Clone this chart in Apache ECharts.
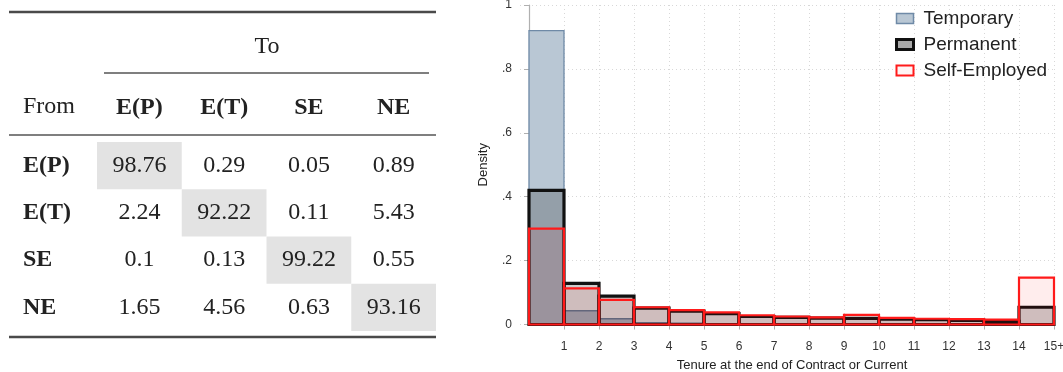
<!DOCTYPE html>
<html>
<head>
<meta charset="utf-8">
<script src="https://cdn.jsdelivr.net/npm/echarts@6/dist/echarts.min.js"></script>
<style>
  html, body { margin: 0; padding: 0; background: #fff; }
  #chart { width: 1063px; height: 372px; }
</style>
</head>
<body>
<div id="chart"></div>
<script>
// ---------- Table data ----------
const colLabels = ['E(P)', 'E(T)', 'SE', 'NE'];
const rowLabels = ['E(P)', 'E(T)', 'SE', 'NE'];
const rowEP = [98.76, 0.29, 0.05, 0.89];
const rowET = [2.24, 92.22, 0.11, 5.43];
const rowSE = [0.1, 0.13, 99.22, 0.55];
const rowNE = [1.65, 4.56, 0.63, 93.16];

// ---------- Histogram data ----------
const binStarts = [0, 1, 2, 3, 4, 5, 6, 7, 8, 9, 10, 11, 12, 13, 14];
const xTickValues = [1, 2, 3, 4, 5, 6, 7, 8, 9, 10, 11, 12, 13, 14, 15];
const temporary = [0.92, 0.043, 0.018, 0.006, 0.004, 0.003, 0.002, 0.002, 0.001, 0.001, 0.001, 0.001, 0.001, 0.001, 0.0];
const permanent = [0.42, 0.129, 0.089, 0.051, 0.042, 0.034, 0.025, 0.022, 0.020, 0.019, 0.017, 0.015, 0.013, 0.010, 0.054];
const selfEmployed = [0.30, 0.113, 0.077, 0.054, 0.045, 0.038, 0.029, 0.025, 0.022, 0.030, 0.021, 0.018, 0.017, 0.015, 0.147];

const tableRows = [rowEP, rowET, rowSE, rowNE];
const tableData = [];
tableRows.forEach((row, r) => row.forEach((v, c) => tableData.push([c, r, v])));

const serif = '"Liberation Serif", "DejaVu Serif", serif';
const sans = '"Liberation Sans", Arial, sans-serif';

function histRender(fill, stroke, lw) {
  return function (params, api) {
    const x0 = api.value(0), h = api.value(1);
    const p0 = api.coord([x0, h]);
    const p1 = api.coord([x0 + 1, 0]);
    return {
      type: 'rect',
      shape: { x: p0[0], y: p0[1], width: p1[0] - p0[0], height: p1[1] - p0[1] },
      style: { fill: fill, stroke: stroke, lineWidth: lw }
    };
  };
}

const tempFill = '#b9c7d4', tempStroke = '#6f8aa7';
const permFill = 'rgba(0,0,0,0.2)', permStroke = '#111';
const seFill = 'rgba(255,0,0,0.07)', seStroke = '#ff1a1a';

const chart = echarts.init(document.getElementById('chart'));
const option = {
  animation: false,
  backgroundColor: '#fff',
  grid: [
    { left: 520, right: 9, top: 5, bottom: 47.5, outerBoundsMode: 'none', containLabel: false },
    { left: 564, right: 9, top: 5, bottom: 47.5, outerBoundsMode: 'none', containLabel: false },
    { left: 97, right: 627, top: 142, bottom: 41, outerBoundsMode: 'none', containLabel: false }
  ],
  xAxis: [
    {
      gridIndex: 0, type: 'value', min: -0.257, max: 15,
      axisLine: { show: false }, axisTick: { show: false }, axisLabel: { show: false },
      splitLine: { show: false },
      name: 'Tenure at the end of Contract or Current', nameLocation: 'middle', nameGap: 34,
      nameTextStyle: { fontFamily: sans, fontSize: 13, color: '#222', padding: [0, 0, 0, 10] }
    },
    {
      gridIndex: 1, type: 'value', min: 1, max: 15, interval: 1, offset: 8.5,
      axisLine: { show: true, lineStyle: { color: '#b0b0b0', width: 1.2 } },
      axisTick: { show: true, length: 5, lineStyle: { color: '#b0b0b0' } },
      axisLabel: {
        fontFamily: sans, fontSize: 12, color: '#333', margin: 8,
        formatter: v => (v === 15 ? '15+' : String(v))
      },
      splitLine: { show: true, lineStyle: { color: '#d8d8d8', type: [1, 3], width: 1 } }
    },
    {
      gridIndex: 2, type: 'category', data: colLabels, position: 'top',
      axisLine: { show: false }, axisTick: { show: false }, splitLine: { show: false },
      axisLabel: { fontFamily: serif, fontSize: 24, fontWeight: 'bold', color: '#222', margin: 22 }
    }
  ],
  yAxis: [
    {
      gridIndex: 0, type: 'value', min: 0, max: 1, interval: 0.2,
      axisLine: { show: true, lineStyle: { color: '#b0b0b0', width: 1.2 } },
      axisTick: { show: true, length: 5, lineStyle: { color: '#b0b0b0' } },
      axisLabel: {
        fontFamily: sans, fontSize: 12, color: '#333', margin: 8,
        formatter: v => (v === 0 ? '0' : v === 1 ? '1' : String(Math.round(v * 10) / 10).replace(/^0/, ''))
      },
      splitLine: { show: true, lineStyle: { color: '#d8d8d8', type: [1, 3], width: 1 } },
      name: 'Density', nameLocation: 'middle', nameGap: 30,
      nameTextStyle: { fontFamily: sans, fontSize: 13, color: '#222' }
    },
    {
      gridIndex: 1, type: 'value', min: 0, max: 1, show: false
    },
    {
      gridIndex: 2, type: 'category', data: rowLabels, inverse: true,
      axisLine: { show: false }, axisTick: { show: false }, splitLine: { show: false },
      axisLabel: { fontFamily: serif, fontSize: 24, fontWeight: 'bold', color: '#222', margin: 74, align: 'left' }
    }
  ],
  legend: {
    orient: 'vertical', left: 890, top: 4, itemWidth: 17, itemHeight: 10, itemGap: 7,
    selectedMode: false,
    textStyle: { fontFamily: sans, fontSize: 19, color: '#222', padding: [0, 0, 0, 5] },
    data: [
      { name: 'Temporary', icon: 'rect', itemStyle: { color: tempFill, borderColor: tempStroke, borderWidth: 1.5 } },
      { name: 'Permanent', icon: 'rect', itemStyle: { color: '#aaaaaa', borderColor: '#111', borderWidth: 3 } },
      { name: 'Self-Employed', icon: 'rect', itemStyle: { color: '#fff4f4', borderColor: '#ff1a1a', borderWidth: 2 } }
    ]
  },
  graphic: [
    { type: 'line', shape: { x1: 9, y1: 12, x2: 436, y2: 12 }, style: { stroke: '#4a4a4a', lineWidth: 2.6 } },
    { type: 'line', shape: { x1: 104, y1: 73, x2: 429, y2: 73 }, style: { stroke: '#555', lineWidth: 1.3 } },
    { type: 'line', shape: { x1: 9, y1: 135, x2: 436, y2: 135 }, style: { stroke: '#555', lineWidth: 1.6 } },
    { type: 'line', shape: { x1: 9, y1: 337, x2: 436, y2: 337 }, style: { stroke: '#4a4a4a', lineWidth: 2.6 } },
    { type: 'text', x: 267, y: 47, style: { text: 'To', font: '24px ' + serif, fill: '#222', textAlign: 'center', textVerticalAlign: 'middle' } },
    { type: 'text', x: 23, y: 107, style: { text: 'From', font: '24px ' + serif, fill: '#222', textAlign: 'left', textVerticalAlign: 'middle' } }
  ],
  series: [
    {
      name: 'Temporary', type: 'custom', xAxisIndex: 0, yAxisIndex: 0,
      itemStyle: { color: tempFill },
      data: binStarts.map((b, i) => [b, temporary[i]]),
      renderItem: histRender(tempFill, tempStroke, 1.3)
    },
    {
      name: 'Permanent', type: 'custom', xAxisIndex: 0, yAxisIndex: 0,
      itemStyle: { color: '#aaaaaa' },
      data: binStarts.map((b, i) => [b, permanent[i]]),
      renderItem: histRender(permFill, permStroke, 3.2)
    },
    {
      name: 'Self-Employed', type: 'custom', xAxisIndex: 0, yAxisIndex: 0,
      itemStyle: { color: '#fff4f4' },
      data: binStarts.map((b, i) => [b, selfEmployed[i]]),
      renderItem: histRender(seFill, seStroke, 2.2)
    },
    {
      name: 'table', type: 'custom', xAxisIndex: 2, yAxisIndex: 2,
      data: tableData,
      renderItem: function (params, api) {
        const c = api.value(0), r = api.value(1), v = api.value(2);
        const center = api.coord([c, r]);
        const size = api.size([1, 1]);
        const children = [];
        if (c === r) {
          children.push({
            type: 'rect',
            shape: { x: center[0] - size[0] / 2, y: center[1] - size[1] / 2, width: size[0], height: size[1] },
            style: { fill: '#e3e3e3' }
          });
        }
        children.push({
          type: 'text', x: center[0], y: center[1],
          style: { text: String(v), font: '24px ' + serif, fill: '#222', textAlign: 'center', textVerticalAlign: 'middle' }
        });
        return { type: 'group', children: children };
      }
    }
  ]
};
chart.setOption(option);
</script>
</body>
</html>
